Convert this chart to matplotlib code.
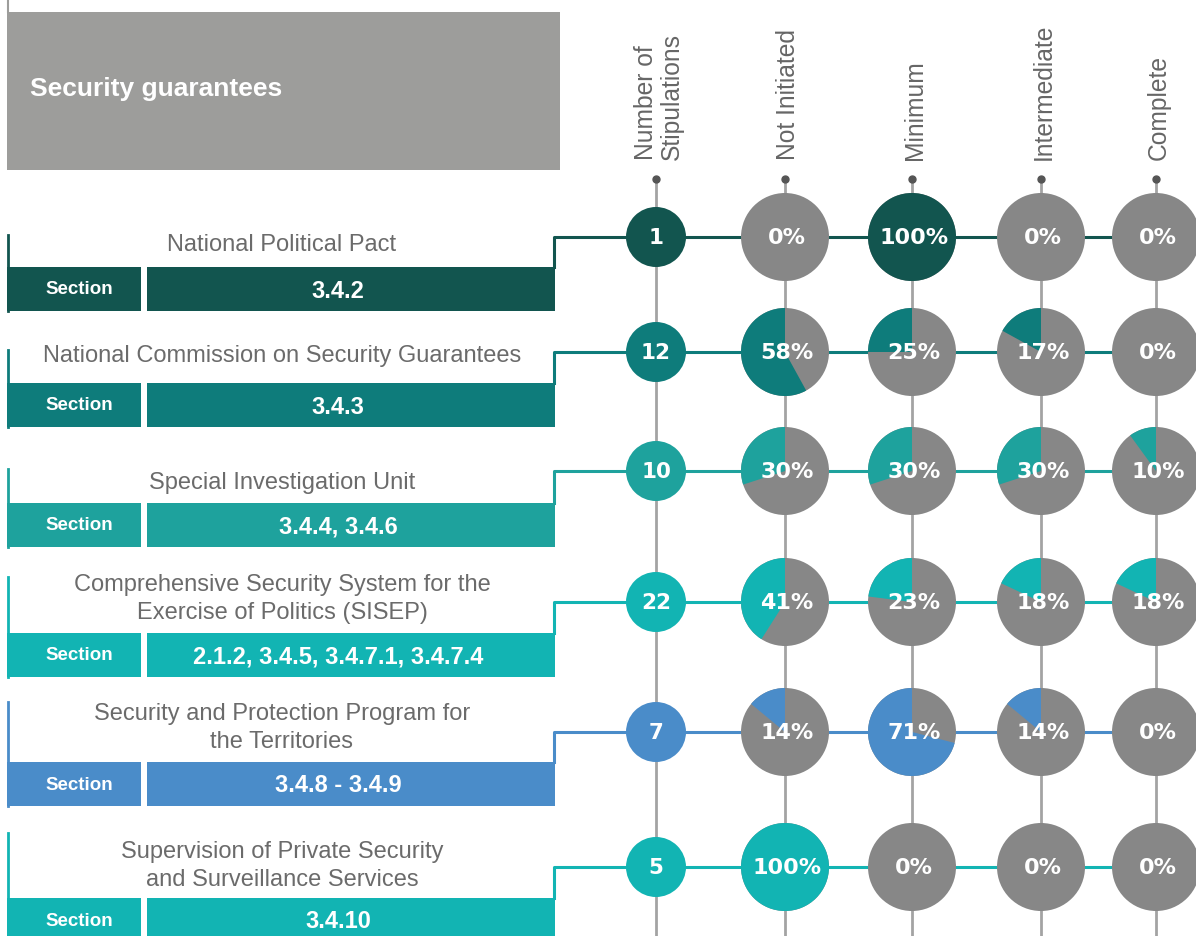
import matplotlib
matplotlib.use("Agg")
import matplotlib.pyplot as plt
from matplotlib.patches import Rectangle, Circle, Wedge

plt.rcParams['font.family'] = ['Liberation Sans', 'DejaVu Sans']

# data
title = "Security guarantees"
columns = ["Number of\nStipulations", "Not Initiated", "Minimum", "Intermediate", "Complete"]
sections = ["National Political Pact",
            "National Commission on Security Guarantees",
            "Special Investigation Unit",
            "Comprehensive Security System for the\nExercise of Politics (SISEP)",
            "Security and Protection Program for\nthe Territories",
            "Supervision of Private Security\nand Surveillance Services"]
codes = ["3.4.2", "3.4.3", "3.4.4, 3.4.6", "2.1.2, 3.4.5, 3.4.7.1, 3.4.7.4",
         "3.4.8 - 3.4.9", "3.4.10"]
n_stip = [1, 12, 10, 22, 7, 5]
not_init = [0, 58, 30, 41, 14, 100]
minimum = [100, 25, 30, 23, 71, 0]
intermediate = [0, 17, 30, 18, 14, 0]
complete = [0, 0, 10, 18, 0, 0]
row_colors = ["#12554F", "#0E7C7B", "#1EA29D", "#12B4B3", "#4A8CC9", "#12B4B3"]

# layout (pixels)
col_x = [656, 785, 912, 1041, 1156]
row_y = [237, 352, 471, 602, 732, 867]
box_top = [267, 383, 503, 633, 762, 898]
box_h = 44
line_top = [235, 350, 469, 577, 702, 833]
title_y = [245, 356, 483, 599, 728, 866]
gray = "#878787"
line_gray = "#A3A3A3"
lbl_font = "DejaVu Sans"

fig = plt.figure(figsize=(11.96, 9.36), dpi=100)
ax = fig.add_axes([0, 0, 1, 1])
ax.set_xlim(0, 1196)
ax.set_ylim(936, 0)
ax.axis('off')

# header
ax.plot([8, 8], [0, 12], color="#9D9D9B", lw=1.5)
ax.add_patch(Rectangle((7, 12), 553, 158, color="#9D9D9B", lw=0))
ax.text(30, 89, title, color="white", fontsize=19, fontweight="bold", va="center")

for x, c in zip(col_x, columns):
    ax.text(x + 3, 160, c, rotation=90, ha="center", va="bottom", color="#666666",
            fontsize=17.7, linespacing=1.12, multialignment="left")
    ax.plot([x, x], [179, 936], color=line_gray, lw=2, zorder=1)
    ax.plot(x, 179, 'o', color="#555555", ms=5, zorder=2)

pie_cols = [not_init, minimum, intermediate, complete]

for i in range(len(sections)):
    col = row_colors[i]
    y = row_y[i]
    # left text block
    ax.plot([8, 8], [line_top[i], box_top[i] + box_h], color=col, lw=2)
    ax.text(282, title_y[i], sections[i], ha="center", va="center", color="#6B6B6B",
            fontsize=17, linespacing=1.36)
    ax.add_patch(Rectangle((7, box_top[i]), 134, box_h, color=col, lw=0))
    ax.add_patch(Rectangle((147, box_top[i]), 408, box_h, color=col, lw=0))
    ax.text(79, box_top[i] + box_h / 2 + 1, "Section", ha="center", va="center",
            color="white", fontsize=13.5, fontweight="bold")
    ax.text(338, box_top[i] + box_h / 2 + 2, codes[i], ha="center", va="center",
            color="white", fontsize=17, fontweight="bold")
    # connector
    ax.plot([554, 554, 1196], [box_top[i], y, y], color=col, lw=2.2, zorder=2)
    # number circle
    ax.add_patch(Circle((col_x[0], y), 30, color=col, lw=0, zorder=3))
    ax.text(col_x[0], y + 1, str(n_stip[i]), ha="center", va="center", color="white",
            fontsize=15.5, fontweight="bold", family=lbl_font, zorder=5)
    # pies
    for j, vals in enumerate(pie_cols):
        p = vals[i] / 100
        cx = col_x[j + 1]
        ax.add_patch(Circle((cx, y), 44, color=gray, lw=0, zorder=3))
        if p > 0:
            ax.add_patch(Wedge((cx, y), 44, 270 - 360 * p, 270, color=col, lw=0, zorder=4))
        ax.text(cx + 2, y + 1, f"{vals[i]}%", ha="center", va="center", color="white",
                fontsize=16, fontweight="bold", family=lbl_font, zorder=5)

fig.savefig("out.png", dpi=100)
